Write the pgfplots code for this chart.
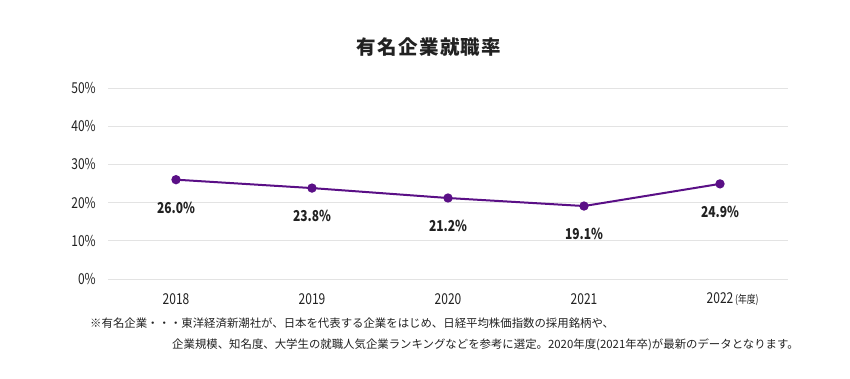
\documentclass[border=0pt]{standalone}
\usepackage{fontspec}
\setmainfont{Noto Sans CJK JP}
\newfontfamily\condfont[FakeStretch=0.8]{Noto Sans CJK JP}
\newfontfamily\titlefont[LetterSpace=7]{Noto Sans CJK JP}
\usepackage{pgfplots}
\pgfplotsset{compat=1.18}
\definecolor{linecol}{HTML}{5A0F86}
\definecolor{txt}{HTML}{222222}
\begin{document}
\begin{tikzpicture}[x=1pt,y=1pt]
\path[use as bounding box, fill=white] (0,0) rectangle (850,379);
\begin{axis}[at={(108pt,100pt)}, anchor=south west,
  width=680pt, height=191pt, scale only axis,
  xmin=-0.5, xmax=4.5, ymin=0, ymax=50,
  xtick={0,1,2,3,4},
  xticklabels={2018,2019,2020,2021,{2022\rlap{\fontsize{11}{11}\selectfont\,(年度)}}},
  ytick={0,10,20,30,40,50},
  yticklabel={\pgfmathprintnumber{\tick}\%},
  /pgf/number format/assume math mode=true,
  ymajorgrids, grid style={draw=gray!22, line width=0.8pt},
  axis line style={draw=none}, tick style={draw=none}, major tick length=0pt,
  xticklabel style={anchor=center, yshift=-20pt, font=\condfont\fontsize{15}{15}\selectfont, text=txt},
  yticklabel style={anchor=east, inner sep=0pt, xshift=-12pt, font=\condfont\fontsize{15}{15}\selectfont, text=txt},
  clip=false,
  nodes near coords={\pgfmathprintnumber[fixed,fixed zerofill,precision=1]{\pgfplotspointmeta}\%},
  every node near coord/.append style={anchor=center, yshift=-28pt, font=\condfont\bfseries\fontsize{15}{15}\selectfont, text=txt},
]
\addplot[color=linecol, line width=2pt, mark=*, mark size=3.6pt, mark options={fill=linecol, draw=linecol}]
  coordinates {(0,26.0) (1,23.8) (2,21.2) (3,19.1) (4,24.9)};
\end{axis}
\node[font=\titlefont\bfseries\fontsize{19.5}{20}\selectfont, text=txt] at (429,332) {有名企業就職率};
\node[anchor=west, inner sep=0pt, font=\fontsize{11.4}{11}\selectfont, text=txt] at (90,56) {※有名企業・・・東洋経済新潮社が、日本を代表する企業をはじめ、日経平均株価指数の採用銘柄や、};
\node[anchor=west, inner sep=0pt, font=\fontsize{11.4}{11}\selectfont, text=txt] at (172,34) {企業規模、知名度、大学生の就職人気企業ランキングなどを参考に選定。2020年度(2021年卒)が最新のデータとなります。};
\end{tikzpicture}
\end{document}
